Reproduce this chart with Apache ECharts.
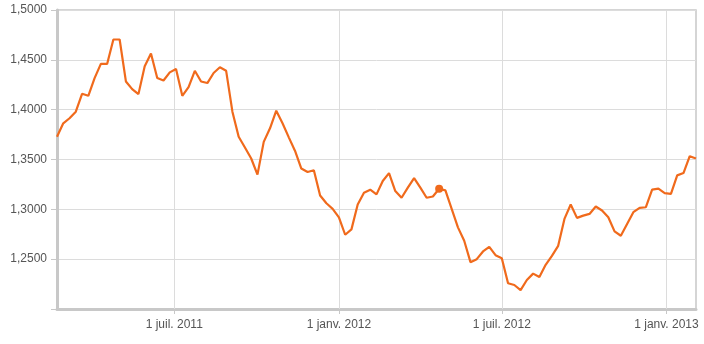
<!DOCTYPE html>
<html>
<head>
<meta charset="utf-8">
<script src="https://cdn.jsdelivr.net/npm/echarts@6/dist/echarts.min.js"></script>
<style>
html,body{margin:0;padding:0;background:#fff;}
#chart{width:704px;height:344px;}
</style>
</head>
<body>
<div id="chart"></div>
<script>
// Weekly observations starting 20 Feb 2011
var startDate = '2011-02-20';
var values = [
  1.3728, 1.3863, 1.3914, 1.3980, 1.4159, 1.4139, 1.4317, 1.4459, 1.4459, 1.4704,
  1.4704, 1.4283, 1.4206, 1.4156, 1.4435, 1.4563, 1.4317, 1.4293, 1.4374, 1.4408,
  1.4139, 1.4227, 1.4390, 1.4283, 1.4267, 1.4368, 1.4425, 1.4390, 1.3980, 1.3728,
  1.3620, 1.3510, 1.3348, 1.3677, 1.3813, 1.3990, 1.3863, 1.3722, 1.3586, 1.3409,
  1.3374, 1.3392, 1.3139, 1.3061, 1.3005, 1.2920, 1.2745, 1.2799, 1.3048, 1.3166,
  1.3197, 1.3150, 1.3284, 1.3364, 1.3183, 1.3116, 1.3217, 1.3314, 1.3217, 1.3116,
  1.3129, 1.3207, 1.3190, 1.3005, 1.2819, 1.2685, 1.2470, 1.2500, 1.2577, 1.2624,
  1.2540, 1.2510, 1.2258, 1.2241, 1.2190, 1.2291, 1.2355, 1.2321, 1.2443, 1.2533,
  1.2634, 1.2904, 1.3048, 1.2914, 1.2937, 1.2954, 1.3028, 1.2988, 1.2920, 1.2779,
  1.2735, 1.2853, 1.2971, 1.3015, 1.3021, 1.3197, 1.3207, 1.3163, 1.3156, 1.3341,
  1.3364, 1.3533, 1.3510
];
var highlightIndex = 61;
var tickDates = ['2011-07-01', '2012-01-01', '2012-07-01', '2013-01-01'];
var tickLabels = ['1 juil. 2011', '1 janv. 2012', '1 juil. 2012', '1 janv. 2013'];
var yMin = 1.2, yMax = 1.5, yStep = 0.05;

function ts(s) { var p = s.split('-'); return Date.UTC(+p[0], +p[1] - 1, +p[2]); }
var DAY = 86400000;
var t0 = ts(startDate);
var seriesData = values.map(function (v, i) { return [t0 + i * 7 * DAY, v]; });
var tickTs = tickDates.map(ts);
var labelMap = {};
tickTs.forEach(function (t, i) { labelMap[t] = tickLabels[i]; });

var chart = echarts.init(document.getElementById('chart'), null, {renderer: 'canvas'});
chart.setOption({
  animation: false,
  backgroundColor: '#fff',
  grid: {left: 57, right: 8, top: 10, bottom: 35, show: true, borderColor: '#c8c8c8', borderWidth: 1.5},
  xAxis: {
    type: 'value',
    min: seriesData[0][0],
    max: seriesData[seriesData.length - 1][0],
    axisLine: {show: true, onZero: false, lineStyle: {color: '#c8c8c8', width: 3}},
    axisTick: {show: true, length: 5, lineStyle: {color: '#c8c8c8'}, customValues: tickTs},
    axisLabel: {
      customValues: tickTs,
      margin: 10,
      color: '#555',
      fontFamily: 'Liberation Sans, Arial, sans-serif',
      fontSize: 12,
      formatter: function (v) { return labelMap[v] || ''; }
    },
    splitLine: {show: false}
  },
  yAxis: {
    type: 'value',
    min: yMin, max: yMax, interval: yStep,
    axisLine: {show: true, lineStyle: {color: '#c8c8c8', width: 3}},
    axisTick: {show: true, length: 6, lineStyle: {color: '#c8c8c8'}},
    axisLabel: {
      margin: 10,
      color: '#555',
      fontFamily: 'Liberation Sans, Arial, sans-serif',
      fontSize: 12,
      formatter: function (v) {
        if (Math.abs(v - yMin) < 1e-9) return '';
        return v.toFixed(4).replace('.', ',');
      }
    },
    splitLine: {show: true, lineStyle: {color: '#dcdcdc', width: 1}}
  },
  series: [
    {
      type: 'line',
      data: seriesData,
      showSymbol: false,
      symbol: 'none',
      lineStyle: {color: '#f06a1c', width: 2.2},
      markLine: {
        silent: true,
        symbol: 'none',
        label: {show: false},
        lineStyle: {color: '#dcdcdc', width: 1, type: 'solid'},
        data: tickTs.map(function (t) { return {xAxis: t}; }),
        z: 1
      },
      z: 3
    },
    {
      type: 'scatter',
      data: [seriesData[highlightIndex]],
      symbol: 'circle',
      symbolSize: 8,
      itemStyle: {color: '#f06a1c', opacity: 1},
      z: 4
    }
  ]
});
</script>
</body>
</html>
